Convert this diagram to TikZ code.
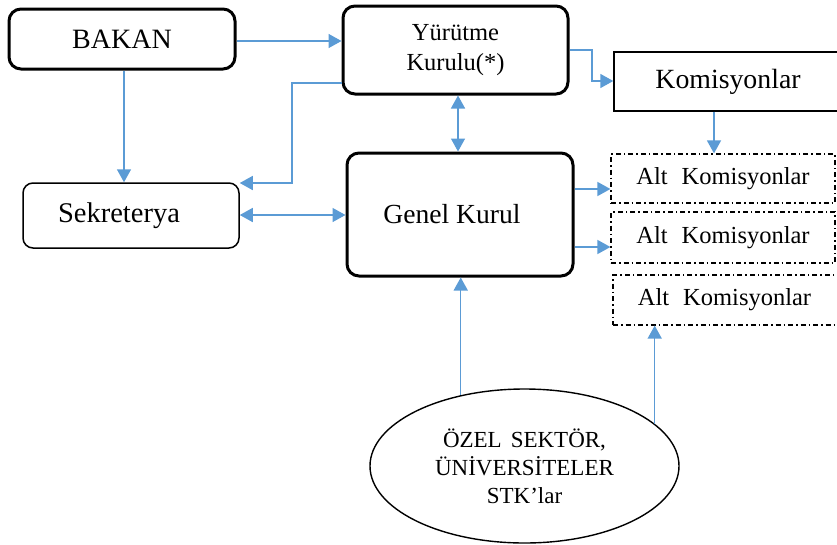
\documentclass[tikz,border=0pt]{standalone}
\usepackage{fontspec}
\setmainfont{Liberation Serif}
\usetikzlibrary{arrows.meta,shapes.geometric}
\definecolor{linkblue}{HTML}{5B9BD5}
\tikzset{
  mainbox/.style={draw=black, line width=3pt, rounded corners=12pt, inner sep=0pt, align=center},
  softbox/.style={draw=black, line width=1.5pt, rounded corners=10pt, inner sep=0pt, align=center},
  plainbox/.style={draw=black, line width=1.4pt, inner sep=0pt, align=center},
  subbox/.style={draw=black, line width=1.2pt, dash pattern=on 5pt off 3pt on 1.5pt off 3pt, inner sep=0pt, align=center},
  group/.style={draw=black, line width=1.4pt, ellipse, inner sep=0pt, align=center},
  link/.style={draw=linkblue, line width=1.5pt, -{Triangle[length=13pt,width=14pt]}},
  biglink/.style={draw=linkblue, line width=1.5pt, {Triangle[length=13pt,width=14pt]}-{Triangle[length=13pt,width=14pt]}}
}
\begin{document}
\begin{tikzpicture}[x=1pt, y=-1pt]
\useasboundingbox (0,0) rectangle (837,544);
\clip (0,0) rectangle (837,544);

% boxes
\node[mainbox, minimum width=226pt, minimum height=60pt, font=\fontsize{28}{30}\selectfont] (bakan) at (122,39) {BAKAN};
\node[mainbox, minimum width=225pt, minimum height=88pt, font=\fontsize{24.5}{30}\selectfont] (yur) at (455.5,50)
  {Yürütme\\Kurulu(*)};
\node[plainbox, minimum width=228pt, minimum height=59pt, font=\fontsize{27.8}{30}\selectfont] (kom) at (728,81.5) {Komisyonlar};
\node[softbox, minimum width=216pt, minimum height=65pt, font=\fontsize{28.5}{30}\selectfont] (sek) at (131,215.5) {Sekreterya\hspace{24pt}};
\node[mainbox, minimum width=226pt, minimum height=123pt, font=\fontsize{27.6}{30}\selectfont] (genel) at (460,214.5) {Genel Kurul\hspace{16pt}};
\node[subbox, minimum width=224pt, minimum height=49pt, font=\fontsize{24.5}{28}\selectfont] (alta) at (723,178.5) {Alt\hspace{14pt}Komisyonlar};
\node[subbox, minimum width=224pt, minimum height=51pt, font=\fontsize{24.5}{28}\selectfont] (altb) at (723,237.5) {Alt\hspace{14pt}Komisyonlar};
\node[subbox, minimum width=227pt, minimum height=50pt, font=\fontsize{24.5}{28}\selectfont] (altc) at (726.5,300) {Alt\hspace{14pt}Komisyonlar\hspace{4pt}};
\node[group, minimum width=309pt, minimum height=154pt, font=\fontsize{23}{28}\selectfont] (ozel) at (524.5,466) {ÖZEL\hspace{9pt}SEKTÖR,\\ÜNİVERSİTELER\\STK'lar};

% connectors
\draw[link] (bakan.east |- 0,41) -- (yur.west |- 0,41);
\draw[link] (124,0 |- bakan.south) -- (124,0 |- sek.north);
\draw[link] (yur.west |- 0,83) -- (292,83) -- (292,183) -- (sek.east |- 0,183);
\draw[biglink] (sek.east |- 0,215) -- (genel.west |- 0,215);
\draw[biglink] (458,0 |- yur.south) -- (458,0 |- genel.north);
\draw[link] (yur.east |- 0,50) -- (592,50) -- (592,81) -- (kom.west |- 0,81);
\draw[link] (714,0 |- kom.south) -- (714,0 |- alta.north);
\draw[link] (genel.east |- 0,189) -- (alta.west |- 0,189);
\draw[link] (genel.east |- 0,247) -- (altb.west |- 0,247);
\draw[link] (ozel.132.7) -- (ozel.132.7 |- genel.south);
\draw[link] (ozel.18) -- (ozel.18 |- altc.south);
\end{tikzpicture}
\end{document}
